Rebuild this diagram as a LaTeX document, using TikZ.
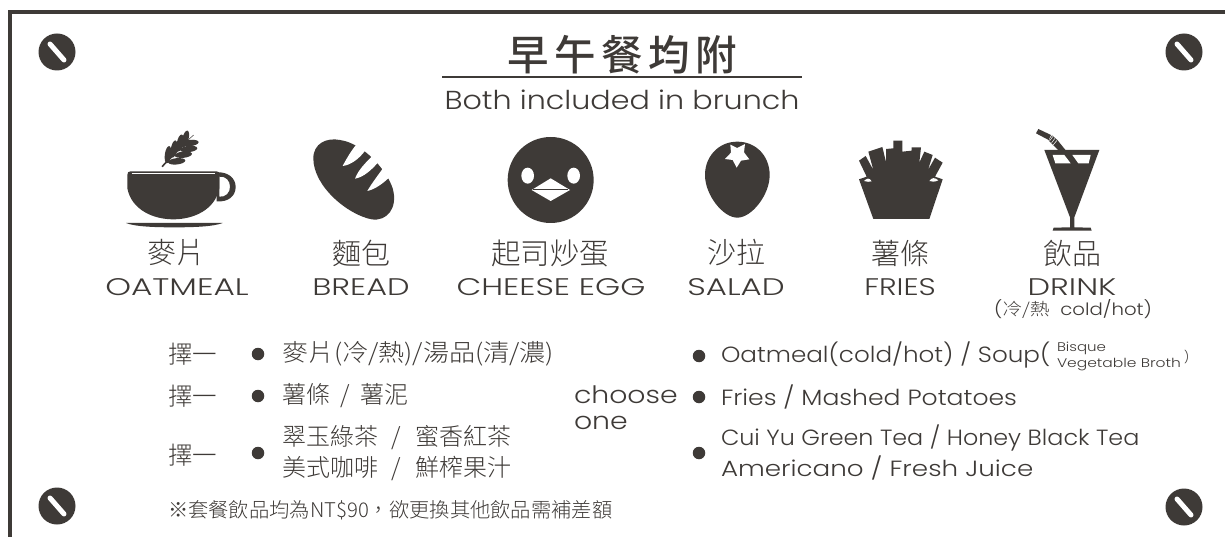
\documentclass[tikz,border=0pt]{standalone}
\usepackage{graphicx}
\usepackage{fontspec}
\setmainfont{Poppins}[UprightFont=* Light]
\newfontfamily\cjk{Noto Sans CJK TC Light}
\newfontfamily\cjkbold{Noto Sans CJK TC Medium}
\definecolor{ink}{HTML}{3E3A37}
\newcommand{\sx}[2]{\scalebox{#1}[1]{#2}}
\newcommand{\gapslash}[1]{\hspace{#1}/\hspace{#1}}
\tikzset{
  lab/.style={font=\fontsize{#1}{#1}\selectfont, text=ink, inner sep=0pt, outer sep=0pt},
  zh/.style={font=\cjk\fontsize{#1}{#1}\selectfont, text=ink, inner sep=0pt, outer sep=0pt},
  bullet/.style={circle, fill=ink, minimum size=12.5pt, inner sep=0pt},
  screw/.style={circle, fill=ink, minimum size=37pt, inner sep=0pt},
  icon/.style={scale=0.33333},
}
\newcommand{\leaf}[3]{\fill[ink,shift={(#1,#2)},rotate=#3] (0,0) ellipse [x radius=26,y radius=9.5];}
\newcommand{\slot}[1]{\draw[white,line width=5pt,line cap=round] ([shift={(-7,-8)}]#1.center) -- ([shift={(7,8)}]#1.center);}
\begin{document}
\begin{tikzpicture}[x=1pt,y=-1pt]
\useasboundingbox (0,0) rectangle (1225,537);
\fill[white] (0,0) rectangle (1225,537);
% frame
\draw[ink,line width=4.5pt] (10.2,537) -- (10.2,12.2) -- (1225,12.2);
% screws
\node[screw] (s1) at (57,52) {}; \slot{s1}
\node[screw] (s2) at (1184,52) {}; \slot{s2}
\node[screw] (s3) at (57,506) {}; \slot{s3}
\node[screw] (s4) at (1184,507) {}; \slot{s4}
% title
\node[text=ink,inner sep=0pt,font=\cjkbold\fontsize{41.5}{41.5}\selectfont] (title) at (622,55) {\addfontfeature{LetterSpace=13}早午餐均附};
\node[lab=26] (sub) at (622,100) {\sx{1.16}{Both included in brunch}};
\draw[ink,line width=2pt] (442,77) -- (802,77);
% cup
\begin{scope}[shift={(100,120)},icon]
  \fill[ink] (82,165) .. controls (82,157) and (85,154) .. (92,154) -- (350,154) .. controls (356,154) and (358,157) .. (358,165)
     -- (358,205) .. controls (345,270) and (280,298) .. (220,298) .. controls (160,298) and (95,270) .. (82,205) -- cycle;
  \draw[white,line width=0.7pt] (95,159) -- (345,159);
  \fill[ink,even odd rule] (350,157) .. controls (385,155) and (407,175) .. (407,201) .. controls (407,228) and (385,247) .. (350,244) -- cycle
     (358,170) .. controls (378,168) and (390,182) .. (390,200) .. controls (390,218) and (378,232) .. (358,230) -- cycle;
  \fill[ink] (78,309) -- (368,309) .. controls (340,320) and (280,322) .. (223,322) .. controls (165,322) and (105,320) .. (78,309) -- cycle;
  \draw[ink,line width=1.6pt] (186,140) -- (262,62);
  \draw[ink,line width=0.5pt] (262,62) -- (281,45);
  \leaf{204}{104}{82}\leaf{222}{87}{80}\leaf{240}{69}{78}\leaf{256}{57}{75}
  \leaf{230}{124}{6}\leaf{250}{104}{6}\leaf{266}{87}{6}\leaf{270}{69}{6}
\end{scope}
% bread
\begin{scope}[shift={(100,120)},icon]
  \fill[ink] (640,115) .. controls (640,70) and (680,52) .. (720,60) .. controls (790,70) and (860,150) .. (878,205)
     .. controls (895,265) and (860,305) .. (815,298) .. controls (745,285) and (640,200) .. (640,115) -- cycle;
  \fill[white] (728,138) .. controls (740,115) and (755,90) .. (772,70) -- (797,90) .. controls (775,120) and (750,135) .. (728,138) -- cycle;
  \fill[white] (765,176) .. controls (775,150) and (795,130) .. (815,110) -- (836,125) .. controls (815,150) and (790,172) .. (765,176) -- cycle;
  \fill[white] (802,213) .. controls (815,190) and (835,165) .. (852,140) -- (870,170) .. controls (850,190) and (825,208) .. (802,213) -- cycle;
\end{scope}
% penguin
\begin{scope}[shift={(440,120)},icon]
  \fill[ink] (332,180) circle [radius=129];
  \fill[white] (263,167) ellipse [x radius=19,y radius=24];
  \fill[white] (401,167) ellipse [x radius=19,y radius=24];
  \fill[white] (275,210) -- (332,175) -- (390,210) -- (332,243) -- cycle;
  \draw[ink,line width=0.7pt] (280,208) -- (385,208);
\end{scope}
% salad
\begin{scope}[shift={(440,120)},icon]
  \fill[ink] (892,65) .. controls (950,65) and (989,110) .. (989,165) .. controls (989,225) and (935,293) .. (892,293)
     .. controls (849,293) and (795,225) .. (795,165) .. controls (795,110) and (835,65) .. (892,65) -- cycle;
  \fill[white] (871,74) -- (891,84) -- (915,72) -- (912,97) -- (928,118) -- (903,122) -- (890,143) -- (878,120) -- (855,117) -- (873,98) -- cycle;
\end{scope}
% fries
\begin{scope}[shift={(820,120)},icon]
  \fill[ink] (117,122) -- (137,108) -- (160,150) -- (145,95) -- (187,81) -- (198,126) -- (198,87) -- (220,85) -- (220,62) -- (247,62)
    -- (247,95) -- (275,92) -- (275,82) -- (303,82) -- (298,128) -- (313,95) -- (338,105) -- (324,150) -- (345,113) -- (368,128) -- (345,170)
    -- (368,178) -- (328,297) -- (160,297) -- (117,178) -- (140,170) -- cycle;
  \fill[white] (132,183) .. controls (140,175) and (148,172) .. (155,184) .. controls (148,186) and (140,186) .. (132,183) -- cycle;
  \fill[white] (328,183) .. controls (335,172) and (345,172) .. (355,181) .. controls (345,186) and (335,186) .. (328,183) -- cycle;
\end{scope}
% drink
\begin{scope}[shift={(820,120)},icon]
  \fill[ink] (673,90) -- (838,90) -- (763,292) -- (763,322) -- (812,323) -- (815,332) -- (698,332) -- (701,323) -- (750,322) -- (750,292) -- cycle;
  \fill[white] (698,105) -- (733,105) -- (752,130) -- (706,130) -- cycle;
  \fill[white] (757,105) -- (812,105) -- (806,130) -- (775,130) -- cycle;
  \fill[ink] (648,40) -- (655,27) -- (693,45) -- (686,60) -- cycle;
  \fill[ink] (696,46) -- (712,60) -- (738,92) -- (716,92) -- (686,62) -- cycle;
  \draw[white,line width=0.5pt] (699,49) -- (689,62) (705,55) -- (695,68) (711,61) -- (700,74);
\end{scope}
% labels
\node[zh=29] (z1) at (176,253) {麥片};
\node[zh=29] (z2) at (361,253) {麵包};
\node[zh=29.5] (z3) at (550,253) {起司炒蛋};
\node[zh=29] (z4) at (736,253) {沙拉};
\node[zh=29] (z5) at (900,253) {薯條};
\node[zh=29] (z6) at (1072,253) {飲品};
\node[lab=24] (e1) at (177,287) {\sx{1.365}{OATMEAL}};
\node[lab=24] (e2) at (361,287) {\sx{1.33}{BREAD}};
\node[lab=24] (e3) at (551,287) {\sx{1.34}{CHEESE EGG}};
\node[lab=24] (e4) at (736,287) {\sx{1.35}{SALAD}};
\node[lab=24] (e5) at (900,287) {\sx{1.25}{FRIES}};
\node[lab=24] (e6) at (1072,287) {\sx{1.33}{DRINK}};
\node[lab=17] (e7) at (1073,309) {\sx{1.16}{({\cjk 冷/熱}\ \ cold/hot)}};
% choices zh
\node[zh=24.5,anchor=west] (c1) at (168,354) {擇一};
\node[zh=24.5,anchor=west] (c2) at (168,396) {擇一};
\node[zh=24.5,anchor=west] (c3) at (168,455) {擇一};
\node[bullet] (b1) at (258,354) {};
\node[bullet] (b2) at (258,396) {};
\node[bullet] (b3) at (258,453) {};
\node[zh=24,anchor=west] (t1) at (282,354) {\sx{1.085}{麥片(冷/熱)/湯品(清/濃)}};
\node[zh=24,anchor=west] (t2) at (282,396) {薯條\gapslash{10.5pt}薯泥};
\node[zh=24,anchor=west] (t3) at (282,438) {翠玉綠茶\gapslash{14pt}蜜香紅茶};
\node[zh=24,anchor=west] (t4) at (282,468) {美式咖啡\gapslash{14pt}鮮榨果汁};
\node[zh=20.3,anchor=west] (note) at (168,510) {※套餐飲品均為NT\$90，欲更換其他飲品需補差額};
% choices en
\node[lab=24,anchor=west] (ch1) at (574,395) {\sx{1.18}{choose}};
\node[lab=24,anchor=west] (ch2) at (574,423) {\sx{1.18}{one}};
\node[bullet] (b4) at (699,356) {};
\node[bullet] (b5) at (699,397) {};
\node[bullet] (b6) at (699,453) {};
\node[lab=22,anchor=west] (u1) at (721,355) {\sx{1.12}{Oatmeal(cold/hot) / Soup(}};
\node[lab=12.5,anchor=west] (u1a) at (1057,348) {\sx{1.2}{Bisque}};
\node[lab=12.5,anchor=west] (u1b) at (1057,365) {\sx{1.24}{Vegetable Broth}};
\node[lab=12,anchor=west] (u1c) at (1184,357) {)};
\node[lab=22,anchor=west] (u2) at (721,397) {\sx{1.14}{Fries / Mashed Potatoes}};
\node[lab=22,anchor=west] (u3) at (721,438) {\sx{1.083}{Cui Yu Green Tea / Honey Black Tea}};
\node[lab=22,anchor=west] (u4) at (721,468) {\sx{1.19}{Americano / Fresh Juice}};
\end{tikzpicture}
\end{document}
